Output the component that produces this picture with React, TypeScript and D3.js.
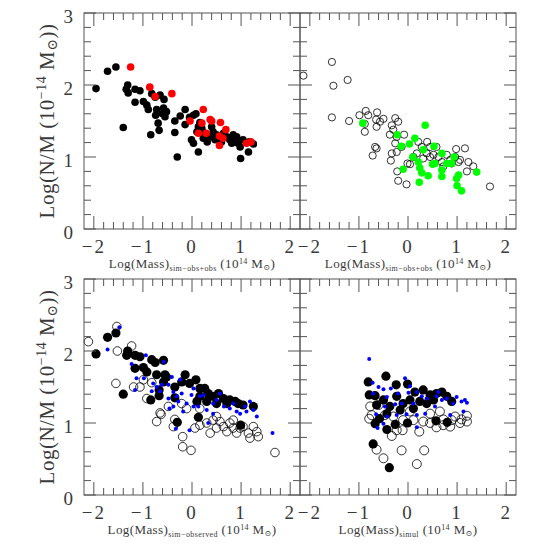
import React from "react";
import * as d3 from "d3";

type P = [number, number];

// Top-left: sim-obs+obs vs N/M
const topLeftBlack: P[] = [
  [-1.955, 1.95], [-1.72, 2.19], [-1.55, 2.25], [-1.31, 2.0], [-1.34, 1.94], [-1.3, 1.89], [-1.16, 1.94],
  [-1.06, 1.92], [-1.16, 1.76], [-1.4, 1.41], [-0.99, 1.77], [-0.92, 1.72], [-0.89, 1.66], [-0.82, 1.88],
  [-0.75, 1.83], [-0.72, 1.66], [-0.74, 1.58], [-0.69, 1.47], [-0.67, 1.37], [-0.84, 1.31], [-0.65, 1.86],
  [-0.57, 1.8], [-0.58, 1.68], [-0.52, 1.63], [-0.55, 1.56], [-0.6, 1.6], [-0.35, 1.5], [-0.35, 1.34],
  [-0.3, 1.0], [-0.14, 1.66], [-0.24, 1.57], [-0.14, 1.45], [-0.05, 1.55], [0.03, 1.58], [0.08, 1.6],
  [-0.01, 1.24], [0.03, 1.19], [0.13, 1.07], [0.1, 1.35], [0.16, 1.48], [0.13, 1.42], [0.2, 1.4],
  [0.26, 1.33], [0.23, 1.26], [0.31, 1.21], [0.37, 1.28], [0.4, 1.42], [0.43, 1.35], [0.5, 1.31],
  [0.47, 1.24], [0.57, 1.27], [0.64, 1.33], [0.71, 1.28], [0.77, 1.24], [0.84, 1.31], [0.91, 1.28],
  [0.88, 1.21], [0.94, 1.19], [0.98, 1.14], [1.04, 1.24], [1.15, 1.07], [0.99, 0.98], [1.25, 1.18],
  [1.17, 1.21], [0.81, 1.19], [0.6, 1.21],
];
const topLeftRed: P[] = [
  [-1.25, 2.25], [-0.86, 1.97], [-0.75, 1.84], [-0.41, 1.88], [-0.04, 1.5], [0.13, 1.33], [0.2, 1.47],
  [0.23, 1.66], [0.29, 1.33], [0.37, 1.52], [0.4, 1.5], [0.58, 1.48], [0.56, 1.29], [0.63, 1.26],
  [0.56, 1.16], [0.69, 1.38], [1.11, 1.19], [1.2, 1.21],
];

// Top-right
const topRightOpen: P[] = [
  [-2.13, 2.13], [-1.55, 2.32], [-1.52, 1.99], [-1.23, 2.07], [-1.55, 1.55], [-1.2, 1.5], [-0.99, 1.58],
  [-0.86, 1.64], [-0.81, 1.58], [-0.88, 1.46], [-0.88, 1.35], [-0.63, 1.62], [-0.65, 1.52], [-0.57, 1.49],
  [-0.5, 1.53], [-0.64, 1.42], [-0.67, 1.14], [-0.64, 1.12], [-0.72, 1.02], [-0.26, 1.54], [-0.2, 1.49],
  [-0.33, 1.44], [-0.3, 1.38], [-0.37, 1.31], [-0.23, 1.28], [-0.08, 1.31], [-0.26, 1.19], [-0.33, 1.05],
  [-0.23, 1.07], [-0.35, 0.95], [-0.22, 0.8], [-0.2, 0.67], [-0.03, 0.62], [-0.01, 0.91], [0.11, 1.0],
  [0.21, 1.21], [0.28, 1.14], [0.38, 1.05], [0.39, 1.21], [0.52, 1.03], [0.58, 1.14], [0.62, 1.0],
  [0.69, 0.93], [0.72, 0.87], [0.79, 1.03], [0.86, 0.96], [0.96, 1.0], [0.98, 1.11], [1.03, 0.93],
  [1.06, 0.96], [1.16, 1.12], [1.2, 0.8], [1.23, 0.93], [1.33, 0.87], [1.67, 0.59], [0.04, 0.9],
  [0.31, 0.98], [0.45, 1.0], [0.89, 0.91], [-0.13, 1.14], [0.45, 1.14], [0.18, 1.05],
];
const topRightGreen: P[] = [
  [-0.92, 1.47], [-0.22, 1.31], [-0.14, 1.15], [0.03, 1.18], [0.14, 1.26], [0.35, 1.44], [0.31, 1.1],
  [0.53, 1.15], [0.1, 1.0], [0.21, 0.93], [-0.1, 0.83], [0.24, 0.85], [0.28, 0.78], [0.23, 0.65],
  [0.41, 0.74], [0.5, 0.9], [0.55, 0.91], [0.69, 1.05], [0.69, 0.82], [0.69, 0.73], [0.79, 0.91],
  [0.89, 0.91], [0.94, 1.0], [0.99, 0.7], [1.03, 0.75], [1.0, 0.6], [1.09, 0.53], [1.4, 0.79],
];

// Bottom-left: sim-observed
const bottomLeftOpen: P[] = [
  [-2.11, 2.13], [-1.53, 2.34], [-1.52, 2.0], [-1.23, 2.07], [-1.55, 1.55], [-1.19, 1.5], [-0.99, 1.6],
  [-0.82, 1.56], [-0.92, 1.34], [-0.72, 1.02], [-0.65, 1.14], [-0.63, 1.12], [-0.35, 1.05], [-0.38, 0.95],
  [-0.19, 0.81], [-0.19, 0.67], [-0.02, 0.62], [0.06, 0.93], [0.16, 0.97], [0.37, 0.86], [0.5, 0.93],
  [0.64, 0.95], [0.71, 0.88], [0.84, 0.93], [0.91, 0.86], [1.04, 0.95], [1.15, 0.86], [1.18, 0.79],
  [1.32, 0.88], [1.35, 0.81], [1.69, 0.59], [0.43, 1.04], [0.57, 1.02], [0.77, 1.0], [0.3, 1.0],
  [0.84, 1.04], [1.25, 0.95], [-0.11, 1.2], [-0.21, 1.27], [-0.48, 1.23], [0.16, 1.2], [-1.06, 1.5],
  [0.5, 1.09], [0.98, 0.93],
];
const bottomLeftBlack: P[] = [
  [-1.955, 1.96], [-1.72, 2.19], [-1.55, 2.25], [-1.4, 1.4], [-1.31, 2.0], [-1.33, 1.94], [-1.16, 1.94],
  [-1.06, 1.92], [-1.16, 1.76], [-0.99, 1.77], [-0.92, 1.71], [-0.82, 1.88], [-0.75, 1.84], [-0.72, 1.67],
  [-0.84, 1.32], [-0.67, 1.38], [-0.67, 1.46], [-0.58, 1.87], [-0.55, 1.67], [-0.58, 1.57], [-0.52, 1.64],
  [-0.35, 1.5], [-0.35, 1.35], [-0.3, 1.01], [-0.14, 1.67], [-0.21, 1.57], [-0.05, 1.55], [0.08, 1.6],
  [0.13, 1.08], [0.16, 1.48], [0.26, 1.48], [0.33, 1.41], [0.16, 1.37], [0.3, 1.3], [0.43, 1.37],
  [0.54, 1.41], [0.64, 1.34], [0.77, 1.32], [0.88, 1.3], [0.94, 1.27], [1.04, 1.25], [1.25, 1.23],
  [0.99, 0.97], [0.1, 1.3], [0.5, 1.27], [0.71, 1.27],
];
const bottomLeftBlue: P[] = [
  [-1.72, 2.02], [-1.48, 2.33], [-1.23, 1.82], [-1.16, 1.46], [-1.13, 1.62], [-0.94, 1.94], [-0.98, 1.62],
  [-0.82, 1.44], [-0.72, 1.5], [-0.62, 1.53], [-0.65, 1.44], [-0.58, 1.85], [-0.41, 1.64], [-0.48, 1.53],
  [-0.38, 1.43], [-0.48, 1.34], [-0.31, 1.37], [-0.21, 1.41], [-0.24, 1.6], [-0.28, 1.3], [-0.38, 1.23],
  [-0.46, 1.2], [-0.33, 0.92], [-0.05, 0.9], [-0.11, 1.27], [-0.01, 1.39], [0.03, 1.48], [0.16, 1.37],
  [0.23, 1.39], [0.3, 1.18], [0.33, 1.0], [0.43, 1.27], [0.5, 1.32], [0.57, 1.41], [0.65, 1.23],
  [0.77, 1.2], [0.84, 1.27], [0.91, 1.16], [0.98, 1.13], [1.08, 1.23], [1.18, 1.3], [1.25, 1.18],
  [1.32, 1.09], [1.64, 0.86], [0.13, 1.23], [0.03, 1.23], [0.43, 1.13], [1.11, 1.16], [-0.18, 1.16],
  [-0.79, 1.55],
];

// Bottom-right: simul
const bottomRightOpen: P[] = [
  [-0.79, 1.06], [-0.64, 0.63], [-0.5, 0.51], [-0.13, 0.62], [0.33, 0.62], [0.18, 0.43], [-0.33, 0.82],
  [-0.11, 0.9], [0.23, 0.88], [0.58, 0.94], [0.86, 0.95], [1.06, 1.0], [1.2, 1.1], [1.2, 1.02],
  [1.09, 1.05], [0.96, 1.09], [0.72, 1.05], [0.45, 1.0], [0.31, 1.02], [0.11, 1.04], [-0.1, 1.04],
  [-0.3, 1.09], [-0.47, 1.11], [-0.74, 1.11], [-0.6, 1.25], [-0.77, 1.23], [0.65, 1.16], [0.45, 1.13],
  [0.04, 1.16], [0.89, 1.04], [-0.23, 0.9], [0.72, 0.97],
];
const bottomRightBlack: P[] = [
  [-0.81, 1.57], [-0.79, 1.39], [-0.45, 1.65], [-0.24, 1.53], [-0.01, 1.54], [-0.71, 0.71], [-0.38, 0.38],
  [-0.67, 0.99], [-0.58, 1.06], [-0.43, 0.91], [-0.26, 0.98], [-0.01, 1.0], [0.57, 1.03], [0.8, 1.01],
  [-0.64, 1.25], [-0.5, 1.32], [-0.37, 1.23], [-0.23, 1.37], [-0.1, 1.27], [0.04, 1.32], [0.14, 1.43],
  [0.31, 1.46], [0.45, 1.39], [0.58, 1.41], [0.69, 1.43], [0.79, 1.37], [0.89, 1.3], [0.24, 1.3],
  [0.38, 1.27], [-0.16, 1.18], [-0.43, 1.13], [0.11, 1.2], [-0.67, 1.38], [0.52, 1.32],
];
const bottomRightBlue: P[] = [
  [-0.79, 1.89], [-0.06, 1.62], [-0.72, 1.56], [-0.6, 1.5], [-0.5, 1.47], [-0.35, 1.48], [-0.71, 1.41],
  [-0.43, 1.36], [-0.2, 1.41], [0.01, 1.42], [0.18, 1.43], [0.38, 1.34], [0.58, 1.37], [0.79, 1.34],
  [0.99, 1.36], [1.16, 1.32], [1.2, 1.28], [1.09, 1.3], [0.92, 1.27], [0.69, 1.32], [0.55, 1.23],
  [0.35, 1.13], [0.18, 1.11], [-0.03, 1.12], [-0.23, 1.11], [-0.43, 1.09], [-0.5, 0.99], [-0.62, 0.93],
  [-0.65, 1.12], [0.18, 0.94], [0.86, 1.11], [1.13, 1.16], [-0.13, 1.27], [0.11, 1.27], [0.28, 1.37],
  [-0.26, 1.26], [-0.47, 1.23], [0.62, 1.43], [0.04, 1.51],
];

const xTickLabels = ["\u22122", "\u22121", "0", "1", "2"];
const xTickValues = [-2, -1, 0, 1, 2];
const yTickValues = [0, 1, 2, 3];
const yTickLabels = ["0", "1", "2", "3"];
const xSubscripts = ["sim\u2212obs+obs", "sim\u2212obs+obs", "sim\u2212observed", "simul"];

const SIZE = 216;
const panelLefts = [84, 300];
const panelTops = [13, 279];
const AXIS = "#555";
const TEXT = "#3a3a3a";
const FONT = "'Liberation Serif', 'DejaVu Serif', serif";

type Layer = { data: P[]; r: number; fill: string; stroke: string };

const panels: { col: number; row: number; layers: Layer[] }[] = [
  {
    col: 0, row: 0, layers: [
      { data: topLeftBlack, r: 3.8, fill: "#000", stroke: "none" },
      { data: topLeftRed, r: 3.8, fill: "#ff0000", stroke: "none" },
    ],
  },
  {
    col: 1, row: 0, layers: [
      { data: topRightOpen, r: 3.6, fill: "none", stroke: "#000" },
      { data: topRightGreen, r: 3.8, fill: "#00ff00", stroke: "none" },
    ],
  },
  {
    col: 0, row: 1, layers: [
      { data: bottomLeftOpen, r: 4.3, fill: "none", stroke: "#000" },
      { data: bottomLeftBlack, r: 4.6, fill: "#000", stroke: "none" },
      { data: bottomLeftBlue, r: 2.0, fill: "#0000ff", stroke: "none" },
    ],
  },
  {
    col: 1, row: 1, layers: [
      { data: bottomRightOpen, r: 4.5, fill: "none", stroke: "#000" },
      { data: bottomRightBlack, r: 4.6, fill: "#000", stroke: "none" },
      { data: bottomRightBlue, r: 2.0, fill: "#0000ff", stroke: "none" },
    ],
  },
];

function Panel({ col, row, layers }: { col: number; row: number; layers: Layer[] }) {
  const x0 = panelLefts[col];
  const y0 = panelTops[row];
  const x = d3.scaleLinear().domain([-2.2, 2.2]).range([x0, x0 + SIZE]);
  const y = d3.scaleLinear().domain([0, 3]).range([y0 + SIZE, y0]);
  const xMinor = d3.range(-22, 23, 2).map((v) => v / 10).filter((v) => v > -2.2 && v < 2.2);
  const yMinor = d3.range(0, 31, 2).map((v) => v / 10);
  const isMajor = (v: number) => Math.abs(v - Math.round(v)) < 1e-6;
  const bottom = y0 + SIZE;
  const right = x0 + SIZE;
  const sub = xSubscripts[row * 2 + col];
  return (
    <g>
      {layers.map((L, li) =>
        L.data.map((d, i) => (
          <circle key={`${li}-${i}`} cx={x(d[0])} cy={y(d[1])} r={L.r} fill={L.fill}
            stroke={L.stroke} strokeWidth={L.stroke === "none" ? 0 : 0.8} />
        ))
      )}
      <rect x={x0} y={y0} width={SIZE} height={SIZE} fill="none" stroke={AXIS} strokeWidth={1} />
      {xMinor.map((v) => {
        const len = isMajor(v) ? 13 : 7;
        return (
          <g key={`xt${v}`} stroke={AXIS} strokeWidth={1}>
            <line x1={x(v)} x2={x(v)} y1={bottom} y2={bottom - len} />
            <line x1={x(v)} x2={x(v)} y1={y0} y2={y0 + len} />
          </g>
        );
      })}
      {yMinor.map((v) => {
        const len = isMajor(v) ? 12 : 7;
        return (
          <g key={`yt${v}`} stroke={AXIS} strokeWidth={1}>
            <line x1={x0} x2={x0 + len} y1={y(v)} y2={y(v)} />
            <line x1={right} x2={right - len} y1={y(v)} y2={y(v)} />
          </g>
        );
      })}
      {xTickValues.map((v, i) => (
        <text key={`xl${v}`} x={x(v)} y={bottom + 24} textAnchor="middle" fontSize={19}
          letterSpacing={2} fontFamily={FONT} fill={TEXT}>{xTickLabels[i]}</text>
      ))}
      {col === 0 && yTickValues.map((v, i) => (
        <text key={`yl${v}`} x={x0 - 11} y={y(v) + 9.5} textAnchor="end" fontSize={19}
          fontFamily={FONT} fill={TEXT}>{yTickLabels[i]}</text>
      ))}
      <text x={x0 + SIZE / 2} y={bottom + 39} textAnchor="middle" fontSize={13} letterSpacing={0.4}
        fontFamily={FONT} fill={TEXT}>
        Log(Mass)
        <tspan fontSize={8} dy={3}>{sub}</tspan>
        <tspan dy={-3}>{"  (10"}</tspan>
        <tspan fontSize={8} dy={-4}>14</tspan>
        <tspan dy={4}> M</tspan>
        <tspan fontSize={8} dy={2}>{"\u2299"}</tspan>
        <tspan dy={-2}>)</tspan>
      </text>
      {col === 0 && (
        <text transform={`translate(54, ${y0 + SIZE / 2}) rotate(-90)`} textAnchor="middle"
          fontSize={21} letterSpacing={0.5} fontFamily={FONT} fill={TEXT}>
          Log(N/M (10
          <tspan fontSize={14} dy={-8}>{"\u221214"}</tspan>
          <tspan dy={8}> M</tspan>
          <tspan fontSize={14} dy={3}>{"\u2299"}</tspan>
          <tspan dy={-3}>))</tspan>
        </text>
      )}
    </g>
  );
}

export default function App() {
  return (
    <svg width={545} height={545} style={{ position: "absolute", left: 0, top: 0, background: "#fff" }}>
      <rect width={545} height={545} fill="#fff" />
      {panels.map((p, i) => (
        <Panel key={i} col={p.col} row={p.row} layers={p.layers} />
      ))}
    </svg>
  );
}
